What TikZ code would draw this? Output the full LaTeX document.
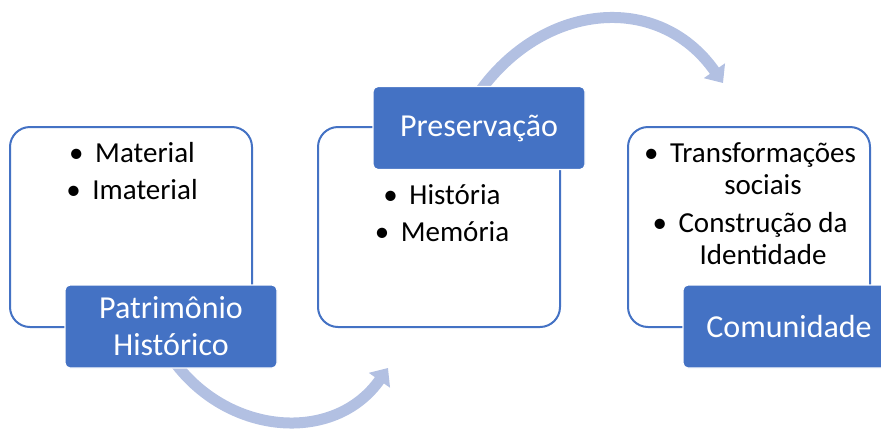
\documentclass[tikz,border=0pt]{standalone}
\usepackage{fontspec}
\setmainfont{Carlito}
\usepackage{xcolor}
\usetikzlibrary{arrows.meta}
\usetikzlibrary{positioning}
\pgfdeclarelayer{bg}
\pgfsetlayers{bg,main}
\definecolor{accent}{RGB}{68,114,196}
\definecolor{flow}{RGB}{178,192,226}
\newcommand{\itm}[1]{\textbullet\hspace{0.4em}\begin{tabular}[t]{@{}c@{}}#1\end{tabular}}

\begin{document}
\begin{tikzpicture}[x=1pt, y=1pt,
		panel/.style={draw=accent, line width=2pt, fill=white, rounded corners=20pt, minimum width=242pt, minimum height=200pt},
		tag/.style={draw=white, line width=1.2pt, fill=accent, text=white, rounded corners=5pt, minimum width=212pt, minimum height=83pt, align=center, font=\fontsize{32}{37}\selectfont},
		items/.style={align=center, inner sep=0pt, anchor=north, font=\fontsize{29}{32}\selectfont},
		flowarrow/.style={draw=flow, line width=11pt, -{Triangle[length=15pt, width=25pt]}}]
	\useasboundingbox (0,0) rectangle (881,-432);
	\foreach \x [count=\iBox] in {131, 439, 749}
	{
		\node[panel] (box\iBox) at (\x,-227) {};
	}
	\node[tag] (tag1) at (171,-326.5) {Patrimônio\\Histórico};
	\node[tag] (tag2) at (479,-128) {Preservação};
	\node[tag] (tag3) at (789,-326.5) {Comunidade};
	\node[items] (list1) at (132,-139.6) {\itm{Material}\\[5pt]\itm{Imaterial}};
	\node[items] (list2) at (442,-181.6) {\itm{História}\\[5pt]\itm{Memória}};
	\node[items] (list3) at (750,-139.6) {\itm{Transformações\\sociais}\\[5pt]\itm{Construção da\\Identidade}};
	\coordinate (hop1) at (388,-368);
	\coordinate (hop2) at (723,-83);
	\begin{pgfonlayer}{bg}
		\draw[flowarrow] ([shift={(1pt,10pt)}]tag1.south) to[out=-55, in=-125, looseness=1.11] (hop1);
		\draw[flowarrow] ([shift={(-1pt,-8pt)}]tag2.north) to[out=55, in=125, looseness=1.17] (hop2);
	\end{pgfonlayer}
\end{tikzpicture}
\end{document}
